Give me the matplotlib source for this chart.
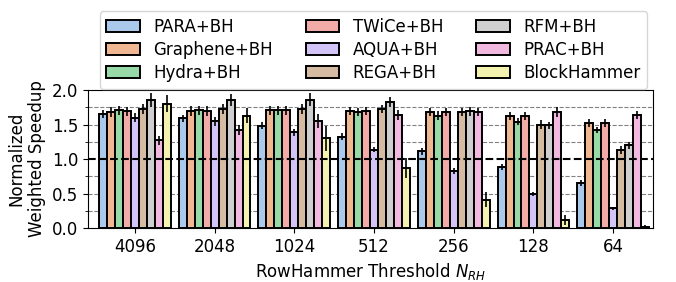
import matplotlib
matplotlib.use("Agg")
import matplotlib.pyplot as plt
import numpy as np
import seaborn as sns

thresholds = ["4096", "2048", "1024", "512", "256", "128", "64"]
mechanisms = ["PARA+BH", "Graphene+BH", "Hydra+BH", "TWiCe+BH", "AQUA+BH",
              "REGA+BH", "RFM+BH", "PRAC+BH", "BlockHammer"]

# mean normalized weighted speedup, one list per mechanism (4096 -> 64)
para = [1.65, 1.59, 1.48, 1.32, 1.115, 0.885, 0.65]
graphene = [1.68, 1.70, 1.705, 1.695, 1.68, 1.62, 1.52]
hydra = [1.705, 1.705, 1.705, 1.68, 1.63, 1.54, 1.42]
twice = [1.69, 1.70, 1.705, 1.695, 1.68, 1.62, 1.52]
aqua = [1.60, 1.545, 1.39, 1.135, 0.83, 0.49, 0.285]
rega = [1.725, 1.725, 1.725, 1.725, 1.676, 1.50, 1.13]
rfm = [1.855, 1.855, 1.86, 1.83, 1.69, 1.49, 1.20]
prac = [1.27, 1.425, 1.55, 1.64, 1.68, 1.685, 1.64]
blockhammer = [1.80, 1.63, 1.30, 0.87, 0.41, 0.12, 0.02]

# error bar half-lengths
para_err = [0.06, 0.05, 0.05, 0.05, 0.05, 0.04, 0.04]
graphene_err = [0.07, 0.07, 0.07, 0.06, 0.06, 0.06, 0.06]
hydra_err = [0.07, 0.07, 0.07, 0.06, 0.06, 0.05, 0.05]
twice_err = [0.07, 0.07, 0.07, 0.06, 0.06, 0.06, 0.06]
aqua_err = [0.06, 0.06, 0.05, 0.04, 0.04, 0.03, 0.02]
rega_err = [0.07, 0.07, 0.07, 0.06, 0.06, 0.06, 0.06]
rfm_err = [0.10, 0.09, 0.09, 0.07, 0.07, 0.05, 0.05]
prac_err = [0.06, 0.07, 0.10, 0.07, 0.06, 0.07, 0.06]
blockhammer_err = [0.12, 0.11, 0.18, 0.14, 0.11, 0.07, 0.02]

values = [para, graphene, hydra, twice, aqua, rega, rfm, prac, blockhammer]
errors = [para_err, graphene_err, hydra_err, twice_err, aqua_err, rega_err,
          rfm_err, prac_err, blockhammer_err]

pal = sns.color_palette("pastel")
order = [0, 1, 2, 3, 4, 5, 7, 6, 8]
# seaborn barplot default saturation
colors = [sns.desaturate(pal[k], 0.75) for k in order]

fig = plt.figure(figsize=(6.76, 2.82), dpi=100)
ax = fig.add_axes([0.130, 0.191, 0.836, 0.490])

x = np.arange(len(thresholds))
width = 0.1
n = len(mechanisms)
for i, (name, vals, err) in enumerate(zip(mechanisms, values, errors)):
    pos = x + (i - (n - 1) / 2) * width
    ax.bar(pos, vals, width, color=colors[i], edgecolor="black", linewidth=1.4,
           label=name, zorder=3)
    ax.errorbar(pos, vals, yerr=err, fmt="none", ecolor="black",
                elinewidth=1.2, capsize=0, zorder=4)

for y in [0.25, 0.5, 0.75, 1.25, 1.5, 1.75]:
    ax.axhline(y, color="gray", linestyle="--", linewidth=0.8, zorder=0)
ax.axhline(1.0, color="black", linestyle="--", linewidth=1.5, zorder=5)

ax.set_ylim(0, 2.0)
ax.set_xlim(-0.59, 6.5)
ax.set_yticks([0.0, 0.5, 1.0, 1.5, 2.0])
ax.set_yticks(np.arange(0.25, 2.0, 0.5), minor=True)
ax.set_xticks(x)
ax.set_xticklabels(thresholds)
ax.tick_params(labelsize=12)
ax.set_ylabel("Normalized\nWeighted Speedup", fontsize=12)
ax.set_xlabel("RowHammer Threshold $N_{RH}$", fontsize=12)

ax.legend(ncol=3, loc="lower center", bbox_to_anchor=(0.505, 1.01),
          fontsize=12, handlelength=2.0, columnspacing=2.0,
          borderaxespad=0.0, handletextpad=0.8, labelspacing=0.3)

fig.savefig("out.png", dpi=100)
